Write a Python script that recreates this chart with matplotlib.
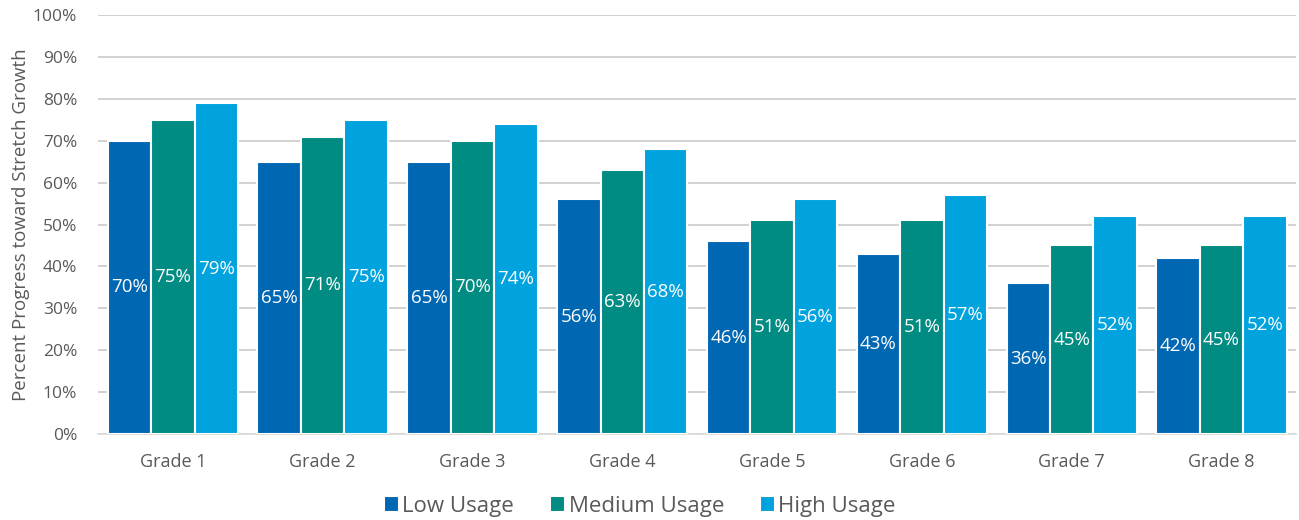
import matplotlib
matplotlib.use("Agg")
import matplotlib.pyplot as plt
import numpy as np

grades = ["Grade 1", "Grade 2", "Grade 3", "Grade 4", "Grade 5", "Grade 6", "Grade 7", "Grade 8"]
low = [70, 65, 65, 56, 46, 43, 36, 42]
medium = [75, 71, 70, 63, 51, 51, 45, 45]
high = [79, 75, 74, 68, 56, 57, 52, 52]
series_names = ["Low Usage", "Medium Usage", "High Usage"]
colors = ["#0067B3", "#008C82", "#00A3DD"]
yticks = [0, 10, 20, 30, 40, 50, 60, 70, 80, 90, 100]

plt.rcParams['font.family'] = ['Open Sans', 'DejaVu Sans']
txt = "#595959"

fig = plt.figure(figsize=(12.99, 5.2), dpi=100)
ax = fig.add_axes([0.0754, 0.1654, 0.9226, 0.8056])

x = np.arange(len(grades))
w = 0.29
for i, (vals, name, c) in enumerate(zip([low, medium, high], series_names, colors)):
    xs = x + (i - 1) * w
    ax.bar(xs, vals, w, color=c, edgecolor="white", linewidth=1.5, label=name, zorder=3)
    for xi, v in zip(xs, vals):
        ax.text(xi, v / 2, f"{v}%", ha="center", va="center", color="white", fontsize=13.5, zorder=4)

ax.set_xlim(-0.5, len(grades) - 0.5)
ax.set_ylim(0, 100)
ax.set_yticks(yticks)
ax.set_yticklabels([f"{t}%" for t in yticks], color=txt, fontsize=12.5)
ax.set_xticks(x)
ax.set_xticklabels(grades, color=txt, fontsize=13)
ax.tick_params(axis="x", length=0, pad=14)
ax.tick_params(axis="y", length=0, pad=15)
ax.yaxis.grid(True, color="#C9C9C9", linewidth=1.2, zorder=0)
ax.set_axisbelow(True)
for s in ["top", "right", "left"]:
    ax.spines[s].set_visible(False)
ax.spines["bottom"].set_color("#D9D9D9")
ax.spines["bottom"].set_linewidth(1.2)
ax.set_ylabel("Percent Progress toward Stretch Growth", color=txt, fontsize=13.5)
ax.yaxis.set_label_coords(-0.057, 0.5)

leg = ax.legend(loc="center", bbox_to_anchor=(0.452, -0.173), ncol=3, frameon=False,
                fontsize=16, handlelength=0.7, handleheight=0.7, handletextpad=0.15,
                columnspacing=1.6)
for t in leg.get_texts():
    t.set_color(txt)

fig.savefig("out.png", dpi=100)
